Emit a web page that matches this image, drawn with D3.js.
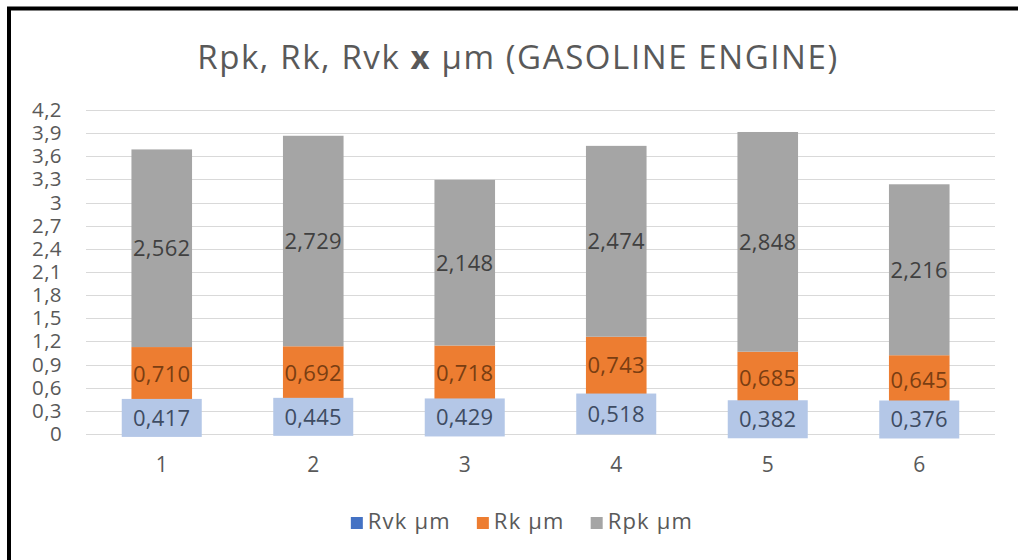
<!DOCTYPE html>
<html>
<head>
<meta charset="utf-8">
<script src="https://cdn.jsdelivr.net/npm/d3@7"></script>
<style>
  html, body { margin: 0; padding: 0; background: #fff; }
  svg { display: block; font-family: "Open Sans", "Noto Sans", sans-serif; }
</style>
</head>
<body>
<svg id="chart" width="1018" height="560"></svg>
<script>
// Sample numbers along the x axis
const categories = ["1", "2", "3", "4", "5", "6"];

// Roughness parameters (µm), stacked bottom to top: Rvk, Rk, Rpk
const rvk = [0.417, 0.445, 0.429, 0.518, 0.382, 0.376];
const rk  = [0.710, 0.692, 0.718, 0.743, 0.685, 0.645];
const rpk = [2.562, 2.729, 2.148, 2.474, 2.848, 2.216];

const seriesNames = ["Rvk µm", "Rk µm", "Rpk µm"];
const yTicks = [0, 0.3, 0.6, 0.9, 1.2, 1.5, 1.8, 2.1, 2.4, 2.7, 3, 3.3, 3.6, 3.9, 4.2];

const colors = ["#4472C4", "#ED7D31", "#A5A5A5"];
const labelColors = ["#3E4C63", "#7A3E12", "#404040"];

const W = 1018, H = 560;
const plot = { left: 86, right: 995, top: 110, bottom: 434 };

const svg = d3.select("#chart");
const locale = d3.formatLocale({ decimal: ",", thousands: ".", grouping: [3], currency: ["", ""] });
const fmtVal = locale.format(".3f");
const fmtTick = v => locale.format("~g")(v);

// Frame: heavy black edge on the left and top
svg.append("rect").attr("x", 0).attr("y", 0).attr("width", W).attr("height", H).attr("fill", "#fff");
svg.append("path")
  .attr("d", `M9,${H} V8.5 H${W}`)
  .attr("fill", "none").attr("stroke", "#000").attr("stroke-width", 4);

// Title
const title = svg.append("text")
  .attr("x", 518).attr("y", 69)
  .attr("text-anchor", "middle")
  .attr("font-size", 33)
  .attr("letter-spacing", 1.6)
  .attr("fill", "#595959");
title.append("tspan").text("Rpk, Rk, Rvk ");
title.append("tspan").attr("font-weight", "bold").text("x");
title.append("tspan").text(" µm (GASOLINE ENGINE)");

// Scales
const x = d3.scaleBand()
  .domain(categories)
  .range([plot.left, plot.right])
  .paddingInner(0.6)
  .paddingOuter(0.3);

const y = d3.scaleLinear().domain([0, 4.2]).range([plot.bottom, plot.top]);

// Gridlines
svg.append("g")
  .selectAll("line")
  .data(yTicks)
  .join("line")
  .attr("x1", plot.left).attr("x2", plot.right)
  .attr("y1", d => Math.round(y(d)) + 0.5).attr("y2", d => Math.round(y(d)) + 0.5)
  .attr("stroke", "#D9D9D9").attr("stroke-width", 1);

// Y axis labels
const yAxis = svg.append("g")
  .attr("transform", `translate(${plot.left - 24},0)`)
  .call(d3.axisLeft(y).tickValues(yTicks).tickFormat(fmtTick).tickSize(0).tickPadding(0));
yAxis.select(".domain").remove();
yAxis.selectAll("text")
  .attr("font-family", "Open Sans, sans-serif")
  .attr("font-size", 20.5)
  .attr("letter-spacing", 0.4)
  .attr("fill", "#595959");

// X axis labels
const xAxis = svg.append("g")
  .attr("transform", `translate(0,${plot.bottom})`)
  .call(d3.axisBottom(x).tickSize(0).tickPadding(23));
xAxis.select(".domain").remove();
xAxis.selectAll("text")
  .attr("font-family", "Open Sans, sans-serif")
  .attr("font-size", 21)
  .attr("fill", "#595959");

// Stack the series
const rows = categories.map((c, i) => ({ cat: c, s0: rvk[i], s1: rk[i], s2: rpk[i] }));
const stack = d3.stack().keys(["s0", "s1", "s2"]);
const layers = stack(rows);

const gLayers = svg.append("g")
  .selectAll("g")
  .data(layers)
  .join("g")
  .attr("fill", (d, i) => colors[i]);

gLayers.selectAll("rect")
  .data(d => d)
  .join("rect")
  .attr("x", d => x(d.data.cat))
  .attr("width", x.bandwidth())
  .attr("y", d => y(d[1]))
  .attr("height", d => y(d[0]) - y(d[1]));

// Data labels (Rvk labels sit in a light blue box)
const labelW = 80;
layers.forEach((layer, li) => {
  const g = svg.append("g");
  layer.forEach(d => {
    const cx = x(d.data.cat) + x.bandwidth() / 2;
    const cy = (y(d[0]) + y(d[1])) / 2;
    if (li === 0) {
      const h = Math.max(38, y(d[0]) - y(d[1]) + 1);
      g.append("rect")
        .attr("x", cx - labelW / 2).attr("y", cy - h / 2)
        .attr("width", labelW).attr("height", h)
        .attr("fill", "#B4C7E7");
    }
    g.append("text")
      .attr("x", cx).attr("y", cy)
      .attr("dy", "0.36em")
      .attr("text-anchor", "middle")
      .attr("font-size", 22)
      .attr("letter-spacing", 0.3)
      .attr("fill", labelColors[li])
      .text(fmtVal(d[1] - d[0]));
  });
});

// Legend
const legend = svg.append("g");
const items = legend.selectAll("g")
  .data(seriesNames)
  .join("g");
items.append("rect")
  .attr("width", 12).attr("height", 12)
  .attr("y", -12)
  .attr("fill", (d, i) => colors[i]);
items.append("text")
  .attr("x", 17).attr("y", 0)
  .attr("dy", "0.02em")
  .attr("font-size", 22)
  .attr("letter-spacing", 1.2)
  .attr("fill", "#595959")
  .text(d => d);

const gap = 26;
const widths = items.nodes().map(n => n.getBBox().width);
const total = d3.sum(widths) + gap * (widths.length - 1);
const startX = 522 - total / 2;
items.attr("transform", (d, i) => {
  const tx = startX + d3.sum(widths.slice(0, i)) + gap * i;
  return `translate(${tx},529)`;
});
</script>
</body>
</html>
